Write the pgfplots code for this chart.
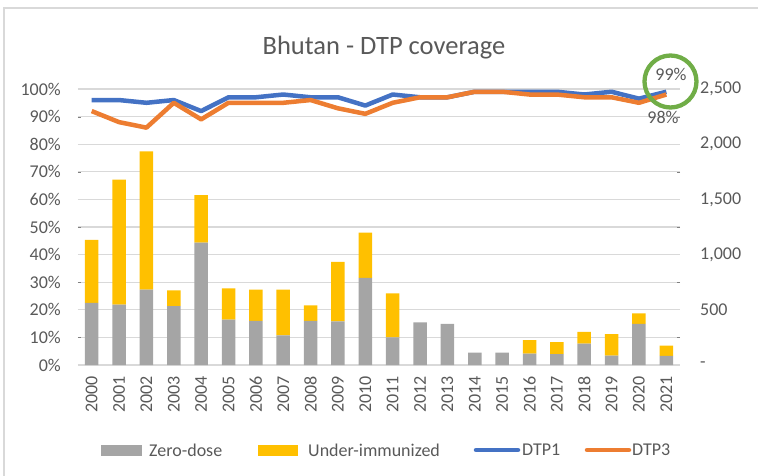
\documentclass[border=0pt]{standalone}
\usepackage{fontspec}
\setmainfont{Carlito}
\usepackage{pgfplots}
\usepackage{pgfplotstable}
\pgfplotsset{compat=1.18}
\definecolor{txtgray}{RGB}{89,89,89}
\definecolor{gridgray}{RGB}{217,217,217}
\definecolor{zerogray}{RGB}{165,165,165}
\definecolor{underyel}{RGB}{255,192,0}
\definecolor{dtpblue}{RGB}{68,114,196}
\definecolor{dtporange}{RGB}{237,125,49}
\definecolor{circgreen}{RGB}{112,173,71}
\newcommand\tickfont{\fontsize{18}{22}\selectfont}

% counts on the right axis, coverage in percent on the left axis
\pgfplotstableread{
year zero under dtp1 dtp3
2000 563 570  96 92
2001 548 1132 96 88
2002 683 1252 95 86
2003 533 142  96 95
2004 1108 430 92 89
2005 410 283  97 95
2006 400 283  97 95
2007 268 415  98 95
2008 400 140  97 96
2009 395 540  97 93
2010 790 410  94 91
2011 250 398  98 95
2012 385 0    97 97
2013 373 0    97 97
2014 113 0    99 99
2015 113 0    99 99
2016 103 122  99 98
2017 98  110  99 98
2018 193 107  98 97
2019 85  195  99 97
2020 373 95   96.5 95
2021 83  92   99 98
}\coverage

\begin{document}
\begin{tikzpicture}
\pgfplotsset{
  base/.style={
    scale only axis, width=602pt, height=276pt,
    xmin=1999.5, xmax=2021.5,
    axis line style={draw=none},
    major tick length=0pt,
    tick label style={font=\tickfont, text=txtgray},
    /pgf/number format/assume math mode=true,
  }
}
% bars, grid and right axis
\begin{axis}[base,
  ybar stacked, bar width=13.5pt,
  ymin=0, ymax=2500,
  xtick=\empty,
  ytick={0,500,...,2500},
  minor ytick={250,750,...,2250},
  yticklabels={-,500,{1,000},{1,500},{2,000},{2,500}},
  yticklabel pos=right,
  yticklabel style={anchor=west, inner sep=0pt},
  yticklabel shift=20pt,
  ymajorgrids, yminorgrids,
  major grid style={draw=gridgray, line width=1.3pt},
  minor grid style={draw=gridgray, line width=1.3pt},
]
\addplot[fill=zerogray, draw=none] table[x=year, y=zero] {\coverage};
\addplot[fill=underyel, draw=none] table[x=year, y=under] {\coverage};
\end{axis}
% coverage lines and left axis
\begin{axis}[base,
  ymin=0, ymax=100,
  ytick={0,10,...,100},
  yticklabels={0\%,10\%,20\%,30\%,40\%,50\%,60\%,70\%,80\%,90\%,100\%},
  yticklabel style={anchor=east, inner sep=0pt},
  yticklabel shift=17pt,
  xtick={2000,2001,...,2021},
  xticklabels={2000,2001,2002,2003,2004,2005,2006,2007,2008,2009,2010,
    2011,2012,2013,2014,2015,2016,2017,2018,2019,2020,2021},
  xticklabel style={rotate=90, anchor=east, inner sep=0pt},
  xticklabel shift=11pt,
]
\addplot[dtpblue, line width=4.5pt, line join=round] table[x=year, y=dtp1] {\coverage};
\addplot[dtporange, line width=4.5pt, line join=round] table[x=year, y=dtp3] {\coverage};
\end{axis}
% title
\node[anchor=base, text=txtgray, font=\fontsize{26.5}{30}\selectfont] at (306pt,311pt) {Bhutan - DTP coverage};
% annotations
\node[text=txtgray, font=\tickfont] at (593pt,291pt) {99\%};
\node[text=txtgray, font=\tickfont] at (585pt,248pt) {98\%};
\draw[circgreen, line width=4.3pt] (592.5pt,283.5pt) circle (26pt);
% legend
\fill[zerogray] (23pt,-91pt) rectangle (64pt,-79.5pt);
\node[anchor=west, inner sep=0pt, text=txtgray, font=\tickfont] at (71pt,-85pt) {Zero-dose};
\fill[underyel] (180pt,-91pt) rectangle (220pt,-79.5pt);
\node[anchor=west, inner sep=0pt, text=txtgray, font=\tickfont] at (230pt,-85pt) {Under-immunized};
\draw[dtpblue, line width=4.5pt, line cap=round] (398pt,-85pt) -- (440pt,-85pt);
\node[anchor=west, inner sep=0pt, text=txtgray, font=\tickfont] at (444pt,-85pt) {DTP1};
\draw[dtporange, line width=4.5pt, line cap=round] (509pt,-85pt) -- (551pt,-85pt);
\node[anchor=west, inner sep=0pt, text=txtgray, font=\tickfont] at (554pt,-85pt) {DTP3};
% frame
\draw[gridgray, line width=1.5pt] (-74pt,-112pt) -- (-74pt,357pt) -- (682pt,357pt);
\pgfresetboundingbox
\useasboundingbox (-78pt,-110pt) rectangle (680pt,365pt);
\end{tikzpicture}
\end{document}
